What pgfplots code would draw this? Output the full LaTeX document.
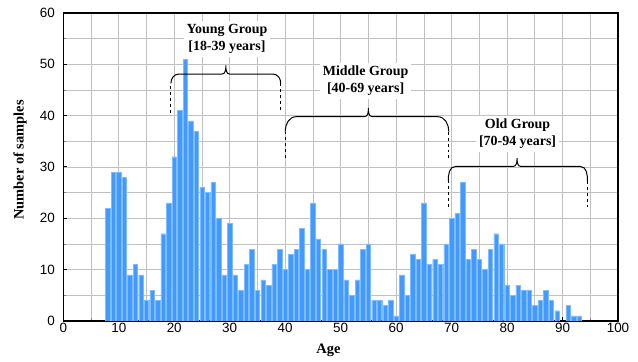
\documentclass[border=0pt]{standalone}
\usepackage{fontspec}
\setmainfont{Liberation Serif}
\setsansfont{Liberation Sans}
\usepackage{pgfplots}
\pgfplotsset{compat=1.18}
\definecolor{barblue}{RGB}{66,153,255}
\definecolor{baredge}{RGB}{125,188,255}
\definecolor{gridgray}{RGB}{192,192,192}
\pgfplotstableread{
age n
8 22
9 29
10 29
11 28
12 9
13 11
14 9
15 4
16 6
17 4
18 17
19 23
20 32
21 41
22 51
23 39
24 37
25 26
26 25
27 27
28 20
29 9
30 19
31 9
32 6
33 11
34 14
35 6
36 8
37 7
38 11
39 14
40 10
41 13
42 14
43 18
44 10
45 23
46 16
47 14
48 10
49 10
50 15
51 8
52 5
53 8
54 14
55 15
56 4
57 4
58 3
59 4
60 1
61 9
62 5
63 13
64 12
65 23
66 11
67 12
68 11
69 15
70 20
71 21
72 27
73 12
74 14
75 12
76 10
77 14
78 17
79 15
80 7
81 5
82 7
83 6
84 6
85 3
86 4
87 6
88 4
89 2
91 3
92 1
93 1
}\agedata
\begin{document}
\begin{tikzpicture}
\begin{axis}[
  scale only axis, width=554.7bp, height=308bp,
  xmin=0, xmax=100, ymin=0, ymax=60,
  ybar, bar width=0.8,
  xtick={0,10,...,100}, ytick={0,10,...,60},
  minor xtick={5,15,...,95}, minor ytick={5,15,...,55},
  grid=both,
  major grid style={gridgray, line width=0.6bp},
  minor grid style={gridgray, line width=0.6bp},
  tick align=inside,
  xtick pos=left, ytick pos=left,
  major tick length=4bp, minor tick length=3bp,
  major tick style={black, line width=1bp},
  minor tick style={gray, line width=0.6bp},
  axis line style={line width=1.2bp},
  ticklabel style={font=\sffamily\fontsize{13.5}{14}\selectfont},
  yticklabel style={xshift=-5bp},
  xticklabel style={yshift=1bp},
  /pgf/number format/assume math mode=true,
  xlabel={Age}, ylabel={Number of samples},
  label style={font=\bfseries\fontsize{14.5}{16}\selectfont},
  xlabel style={at={(axis description cs:0.478,-0.0964)}, anchor=center},
  ylabel style={at={(axis description cs:-0.078,0.523)}, anchor=center},
]
\addplot[fill=barblue, draw=baredge, line width=0.4bp] table[x=age, y=n] {\agedata};

% Young group brace
\draw[line width=1bp, dashed] (axis cs:19.4,40.5) -- (axis cs:19.4,46.3);
\draw[line width=1bp] (axis cs:19.4,46.3) to[out=90,in=180] (axis cs:20.8,48.1) -- (axis cs:28.6,48.1) to[out=0,in=-90] (axis cs:29.3,49.8) to[out=-90,in=180] (axis cs:30.0,48.1) -- (axis cs:37.8,48.1) to[out=0,in=90] (axis cs:39.2,46.3);
\draw[line width=1bp, dashed] (axis cs:39.2,46.3) -- (axis cs:39.2,40.5);
% Middle group brace
\draw[line width=1bp, dashed] (axis cs:40,31.8) -- (axis cs:40,36.9);
\draw[line width=1bp] (axis cs:40,36.9) to[out=90,in=180] (axis cs:42,39.8) -- (axis cs:54.3,39.8) to[out=0,in=-90] (axis cs:55,41.5) to[out=-90,in=180] (axis cs:55.7,39.8) -- (axis cs:67.5,39.8) to[out=0,in=90] (axis cs:69.5,36.9);
\draw[line width=1bp, dashed] (axis cs:69.5,36.9) -- (axis cs:69.5,31.8);
% Old group brace
\draw[line width=1bp, dashed] (axis cs:69.4,22.3) -- (axis cs:69.4,27.3);
\draw[line width=1bp] (axis cs:69.4,27.3) to[out=90,in=180] (axis cs:70.7,30.1) -- (axis cs:81.1,30.1) to[out=0,in=-90] (axis cs:81.8,31.7) to[out=-90,in=180] (axis cs:82.5,30.1) -- (axis cs:93.2,30.1) to[out=0,in=90] (axis cs:94.5,27.3);
\draw[line width=1bp, dashed] (axis cs:94.5,27.3) -- (axis cs:94.5,22.3);

\node[fill=white, align=center, inner sep=3bp, font=\bfseries\fontsize{14}{17.5}\selectfont] at (axis cs:29.5,55) {Young Group\\{}[18-39 years]};
\node[fill=white, align=center, inner sep=3bp, font=\bfseries\fontsize{14}{17.5}\selectfont] at (axis cs:54.5,46.8) {Middle Group\\{}[40-69 years]};
\node[fill=white, align=center, inner sep=3bp, font=\bfseries\fontsize{14}{17.5}\selectfont] at (axis cs:81.9,36.5) {Old Group\\{}[70-94 years]};
\end{axis}
\pgfresetboundingbox
\path (current axis.south west) ++(-63.3bp,-41bp) rectangle ([xshift=20bp,yshift=13bp]current axis.north east);
\end{tikzpicture}
\end{document}
